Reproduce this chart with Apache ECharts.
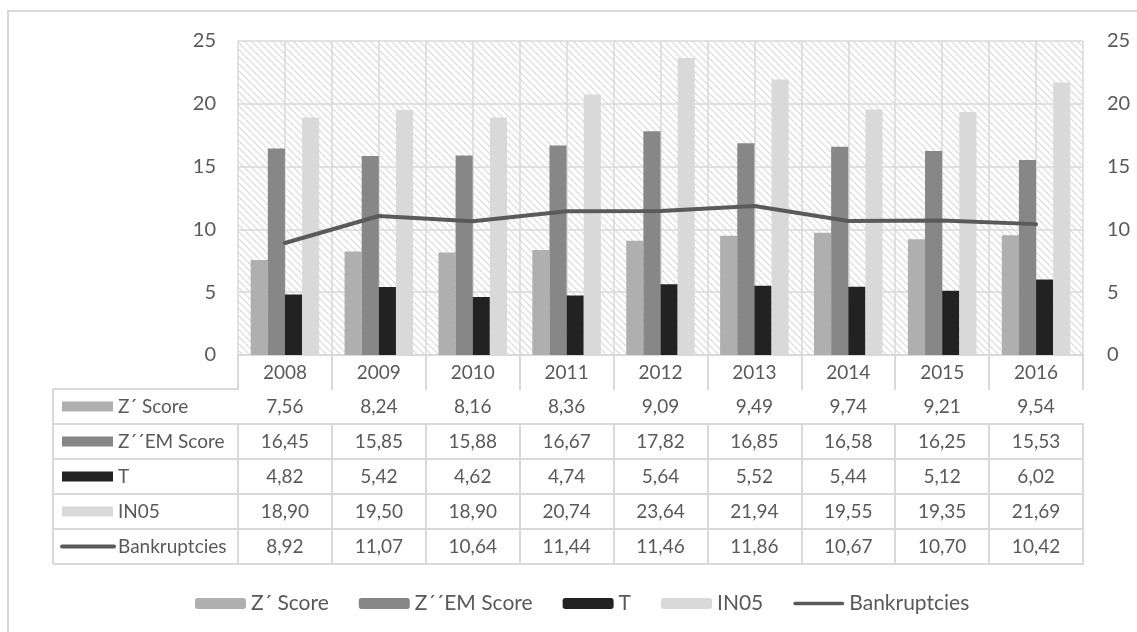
<!DOCTYPE html>
<html>
<head>
<meta charset="utf-8">
<script src="https://cdn.jsdelivr.net/npm/echarts@6/dist/echarts.min.js"></script>
<style>
  html, body { margin: 0; padding: 0; background: #ffffff; }
  #chart { width: 1137px; height: 632px; }
</style>
</head>
<body>
<div id="chart"></div>
<script>
// Categories and series values
const years = ['2008', '2009', '2010', '2011', '2012', '2013', '2014', '2015', '2016'];
const zScore = [7.56, 8.24, 8.16, 8.36, 9.09, 9.49, 9.74, 9.21, 9.54];
const zemScore = [16.45, 15.85, 15.88, 16.67, 17.82, 16.85, 16.58, 16.25, 15.53];
const tScore = [4.82, 5.42, 4.62, 4.74, 5.64, 5.52, 5.44, 5.12, 6.02];
const in05 = [18.90, 19.50, 18.90, 20.74, 23.64, 21.94, 19.55, 19.35, 21.69];
const bankruptcies = [8.92, 11.07, 10.64, 11.44, 11.46, 11.86, 10.67, 10.70, 10.42];
const seriesNames = ['Z\u00B4 Score', 'Z\u00B4\u00B4EM Score', 'T', 'IN05', 'Bankruptcies'];

// Layout and style
const FONT = 'Lato, "Open Sans", sans-serif';
const TEXT = '#595959';
const RULE = '#d9d9d9';
const COLORS = ['#afafaf', '#878787', '#222222', '#d9d9d9', '#5a5a5a'];
const GRID = { left: 238, right: 54, top: 41, bottom: 277 };
const PLOT_BOTTOM = 632 - GRID.bottom;   // y of the zero line
const HEAD_H = 34;                        // year row height
const ROW_H = 35;                         // data row height
const TABLE_LEFT = 53;
const TABLE_FONT = 19;
const LINE_ICON = 'path://M2,0 L54,0 A2,2 0 0 1 54,4 L2,4 A2,2 0 0 1 2,0 Z';

// Diagonal hatch fill for the plot area
function hatch() {
  const s = 7;
  const c = document.createElement('canvas');
  c.width = s; c.height = s;
  const g = c.getContext('2d');
  g.fillStyle = '#ffffff';
  g.fillRect(0, 0, s, s);
  g.strokeStyle = '#dedede';
  g.lineWidth = 1.3;
  for (const k of [-s, 0, s]) {
    g.beginPath();
    g.moveTo(k, 0);
    g.lineTo(k + s, s);
    g.stroke();
  }
  return { image: c, repeat: 'repeat' };
}

const fmt = v => v.toFixed(2).replace('.', ',');
const rows = [zScore, zemScore, tScore, in05, bankruptcies];

// Table rows are extra category axes stacked under the plot
const rowAxes = rows.map((vals, i) => ({
  type: 'category',
  data: years,
  gridIndex: 0,
  position: 'bottom',
  offset: HEAD_H + i * ROW_H,
  axisLine: { show: true, lineStyle: { color: RULE, width: 2 } },
  axisTick: { show: true, length: ROW_H, interval: 0, lineStyle: { color: RULE, width: 2 } },
  axisLabel: {
    interval: 0, margin: 8, fontSize: TABLE_FONT, color: TEXT, fontFamily: FONT,
    formatter: (v, idx) => fmt(vals[idx])
  },
  splitLine: { show: false }
}));

const closingAxis = {
  type: 'category', data: years, gridIndex: 0, position: 'bottom',
  offset: HEAD_H + rows.length * ROW_H,
  axisLine: { show: true, lineStyle: { color: RULE, width: 2 } },
  axisTick: { show: false }, axisLabel: { show: false }
};

// Vertical guides at every half category
const guideAxis = {
  type: 'value', min: 0, max: years.length * 2, interval: 1, position: 'top',
  axisLine: { show: false }, axisTick: { show: false }, axisLabel: { show: false },
  splitLine: { show: true, lineStyle: { color: RULE, width: 1.5 } }
};

// Row headers of the table (swatch + name)
const headerGraphics = [];
const tableTop = PLOT_BOTTOM + HEAD_H;
const tableBottom = tableTop + rows.length * ROW_H;
headerGraphics.push({
  type: 'line', shape: { x1: TABLE_LEFT, y1: tableTop, x2: TABLE_LEFT, y2: tableBottom },
  style: { stroke: RULE, lineWidth: 2 }
});
for (let i = 0; i <= rows.length; i++) {
  const y = tableTop + i * ROW_H;
  headerGraphics.push({
    type: 'line', shape: { x1: TABLE_LEFT, y1: y, x2: GRID.left, y2: y },
    style: { stroke: RULE, lineWidth: 2 }
  });
}
seriesNames.forEach((name, i) => {
  const cy = tableTop + i * ROW_H + ROW_H / 2;
  if (i < 4) {
    headerGraphics.push({
      type: 'rect', shape: { x: 62, y: cy - 5, width: 51, height: 10 },
      style: { fill: COLORS[i] }
    });
  } else {
    headerGraphics.push({
      type: 'line', shape: { x1: 62, y1: cy, x2: 114, y2: cy },
      style: { stroke: COLORS[i], lineWidth: 4, lineCap: 'round' }
    });
  }
  headerGraphics.push({
    type: 'text', x: 118, y: cy,
    style: { text: name, fill: TEXT, font: TABLE_FONT + 'px ' + FONT, verticalAlign: 'middle', align: 'left' }
  });
});
// Outer frame
headerGraphics.push({
  type: 'rect', shape: { x: 8, y: 11, width: 1150, height: 650 },
  style: { fill: 'none', stroke: RULE, lineWidth: 2 }, z: -10
});

const barBase = {
  type: 'bar', xAxisIndex: 0, yAxisIndex: 0,
  barGap: '0%', barCategoryGap: '27%'
};

const option = {
  animation: false,
  backgroundColor: '#ffffff',
  textStyle: { fontFamily: FONT },
  grid: {
    left: GRID.left, right: GRID.right, top: GRID.top, bottom: GRID.bottom,
    show: true, borderWidth: 0, backgroundColor: hatch()
  },
  legend: {
    left: 190, top: 588,
    itemWidth: 51, itemHeight: 11, itemGap: 30,
    textStyle: { fontSize: 21, color: TEXT, fontFamily: FONT, padding: [0, 0, 0, 0] },
    data: [
      { name: seriesNames[0] },
      { name: seriesNames[1] },
      { name: seriesNames[2] },
      { name: seriesNames[3] },
      { name: seriesNames[4], icon: LINE_ICON }
    ]
  },
  xAxis: [
    {
      type: 'category', data: years, gridIndex: 0, position: 'bottom',
      axisLine: { show: true, lineStyle: { color: RULE, width: 2 } },
      axisTick: { show: true, length: HEAD_H, interval: 0, lineStyle: { color: RULE, width: 2 } },
      axisLabel: { interval: 0, margin: 8, fontSize: TABLE_FONT, color: TEXT, fontFamily: FONT },
      splitLine: { show: false }
    },
    ...rowAxes,
    closingAxis,
    guideAxis
  ],
  yAxis: [
    {
      type: 'value', min: 0, max: 25, interval: 5, position: 'left',
      axisLine: { show: false }, axisTick: { show: false },
      axisLabel: { fontSize: 20, color: TEXT, fontFamily: FONT, margin: 22 },
      splitLine: { show: true, lineStyle: { color: RULE, width: 1.5 } }
    },
    {
      type: 'value', min: 0, max: 25, interval: 5, position: 'right',
      axisLine: { show: false }, axisTick: { show: false },
      axisLabel: { fontSize: 20, color: TEXT, fontFamily: FONT, margin: 24 },
      splitLine: { show: false }
    }
  ],
  graphic: headerGraphics,
  series: [
    Object.assign({}, barBase, { name: seriesNames[0], data: zScore, itemStyle: { color: COLORS[0] } }),
    Object.assign({}, barBase, { name: seriesNames[1], data: zemScore, itemStyle: { color: COLORS[1] } }),
    Object.assign({}, barBase, { name: seriesNames[2], data: tScore, itemStyle: { color: COLORS[2] } }),
    Object.assign({}, barBase, { name: seriesNames[3], data: in05, itemStyle: { color: COLORS[3] } }),
    {
      name: seriesNames[4], type: 'line', xAxisIndex: 0, yAxisIndex: 1,
      data: bankruptcies, symbol: 'none',
      itemStyle: { color: COLORS[4] },
      lineStyle: { color: COLORS[4], width: 4, cap: 'round' }
    }
  ]
};

const chart = echarts.init(document.getElementById('chart'), null, { renderer: 'canvas' });
chart.setOption(option);
</script>
</body>
</html>
